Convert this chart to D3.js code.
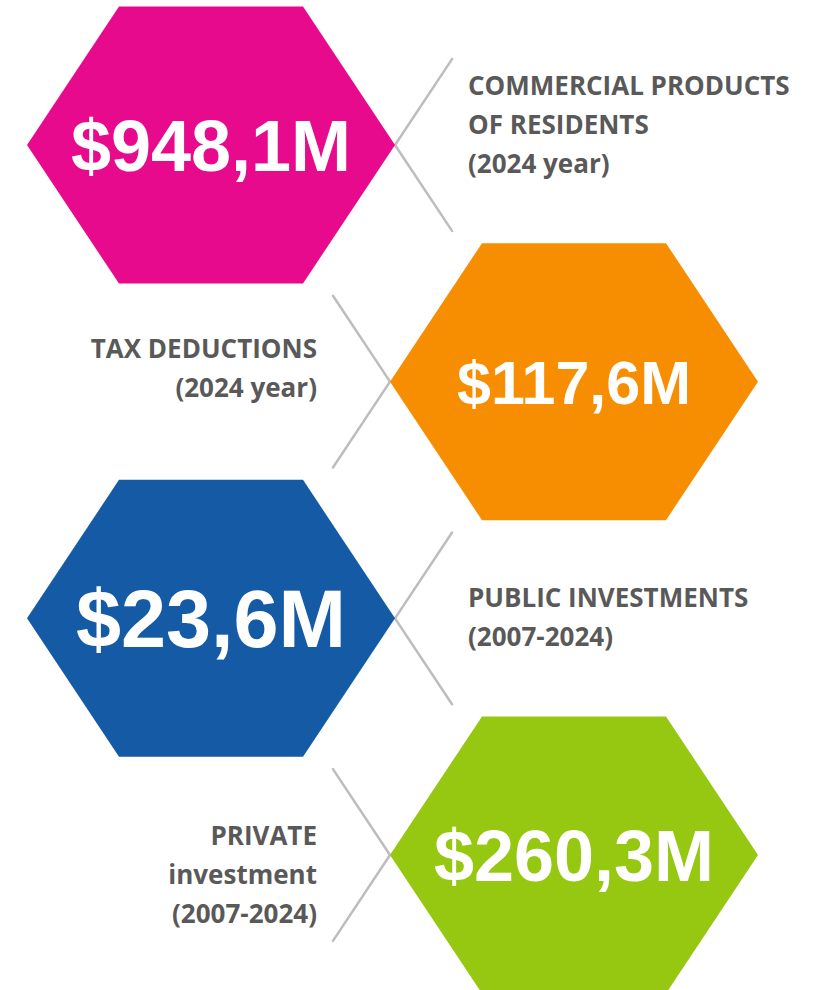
<!DOCTYPE html>
<html>
<head>
  <meta charset="utf-8">
  <title>Hexagon key figures</title>
  <script src="https://d3js.org/d3.v7.min.js"></script>
  <style>
    html, body {
      margin: 0;
      padding: 0;
      background: #fff;
    }

    svg {
      display: block;
    }

    .value {
      font-family: "Liberation Sans", Arial, sans-serif;
      font-weight: bold;
      fill: #fff;
      text-anchor: middle;
    }

    .label {
      font-family: "Open Sans", "Noto Sans", sans-serif;
      font-weight: 700;
      font-size: 26px;
      fill: #595959;
    }

    .guide {
      stroke: #bdbdbd;
      stroke-width: 2.5px;
      stroke-linecap: round;
    }
  </style>
</head>
<body>
  <svg width="840" height="990"></svg>

  <script>
    // values shown in the hexagons, top to bottom
    const values = ["$948,1M", "$117,6M", "$23,6M", "$260,3M"];

    // caption lines next to each hexagon
    const captions = [
      ["COMMERCIAL PRODUCTS", "OF RESIDENTS", "(2024 year)"],
      ["TAX DEDUCTIONS", "(2024 year)"],
      ["PUBLIC INVESTMENTS", "(2007-2024)"],
      ["PRIVATE", "investment", "(2007-2024)"]
    ];

    const colors = ["#e80a8c", "#f78e02", "#145aa5", "#96c711"];

    const width = 840, height = 990;

    // hexagon shape (flat top, a bit squashed like the original)
    const halfW = 184, halfTop = 92, halfH = 138.5;
    const valueSize = [72, 61, 81, 72];     // font sizes of the big numbers
    const captionShift = [-20, -14, -1, 20]; // caption block offset from hex centre
    const lineGap = 39;

    const svg = d3.select("svg");

    const y = d3.scalePoint()
      .domain(d3.range(values.length))
      .range([145, 855]);

    // even rows sit left, odd rows right
    const x = d3.scaleOrdinal()
      .domain([0, 1])
      .range([211, 574]);

    const rows = values.map((v, i) => ({
      i: i,
      value: v,
      caption: captions[i],
      color: colors[i],
      side: i % 2,                // 0 = hexagon left, caption right
      cx: x(i % 2),
      cy: y(i)
    }));

    function hexPoints(d) {
      return [
        [d.cx - halfTop, d.cy - halfH],
        [d.cx + halfTop, d.cy - halfH],
        [d.cx + halfW, d.cy],
        [d.cx + halfTop, d.cy + halfH],
        [d.cx - halfTop, d.cy + halfH],
        [d.cx - halfW, d.cy]
      ];
    }

    // grey lines that continue the hexagon edges past the inner vertex
    const ext = 0.62;
    const g = svg.selectAll("g.row")
      .data(rows)
      .enter().append("g")
      .attr("class", "row");

    g.each(function (d) {
      const s = d.side === 0 ? 1 : -1;
      const vx = d.cx + s * halfW, vy = d.cy;
      const dx = s * (halfW - halfTop) * ext, dy = halfH * ext;
      d.lineEnd = vx + dx;
      const sel = d3.select(this);
      sel.append("line").attr("class", "guide")
        .attr("x1", vx).attr("y1", vy)
        .attr("x2", vx + dx).attr("y2", vy - dy);
      sel.append("line").attr("class", "guide")
        .attr("x1", vx).attr("y1", vy)
        .attr("x2", vx + dx).attr("y2", vy + dy);
    });

    g.append("polygon")
      .attr("points", d => hexPoints(d).join(" "))
      .attr("fill", d => d.color);

    g.append("text")
      .attr("class", "value")
      .attr("x", d => d.cx)
      .attr("y", d => d.cy)
      .attr("dy", "0.36em")
      .style("font-size", d => valueSize[d.i] + "px")
      .text(d => d.value);

    // captions
    g.each(function (d) {
      const s = d.side === 0 ? 1 : -1;
      const n = d.caption.length;
      const yc = d.cy + captionShift[d.i];
      const tx = d.lineEnd + s * 16;
      d3.select(this).selectAll("text.label")
        .data(d.caption)
        .enter().append("text")
        .attr("class", "label")
        .attr("text-anchor", d.side === 0 ? "start" : "end")
        .attr("x", tx)
        .attr("y", (t, k) => yc + (k - (n - 1) / 2) * lineGap)
        .attr("dy", "0.36em")
        .text(t => t);
    });
  </script>
</body>
</html>
